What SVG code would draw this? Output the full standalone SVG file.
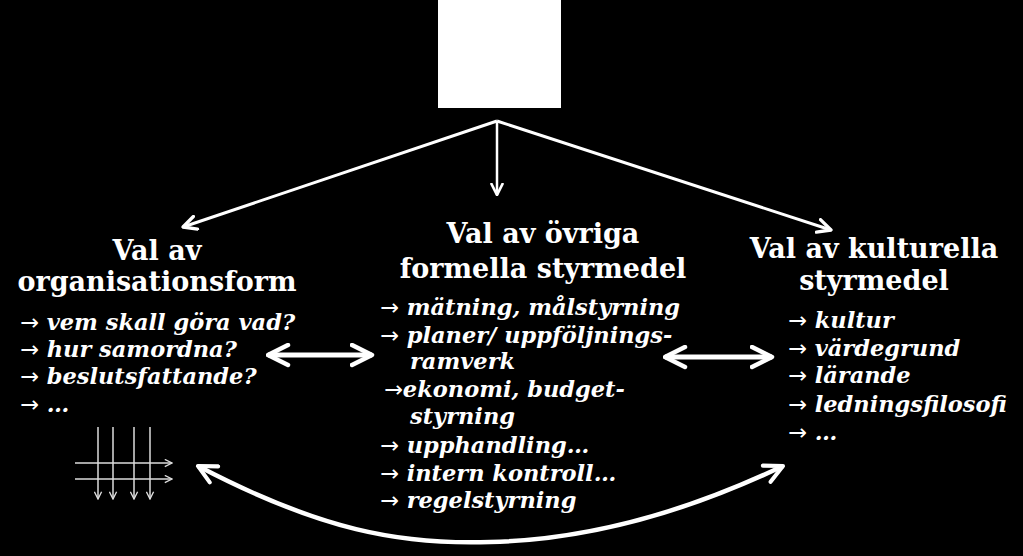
<svg xmlns="http://www.w3.org/2000/svg" width="1023" height="556" viewBox="0 0 1023 556">
<defs>
<style>
.t{font-family:"DejaVu Serif","Liberation Serif",serif;font-weight:bold;font-size:27px;fill:#fff}
.i{font-family:"DejaVu Serif","Liberation Serif",serif;font-weight:bold;font-style:italic;font-size:22.5px;fill:#fff}
.a{font-style:normal;font-weight:normal;font-family:"DejaVu Sans",sans-serif}
.c{stroke:#fff;fill:none}
.g{stroke:#ddd;fill:none;stroke-width:1.5}
</style>
<marker id="h" viewBox="0 0 10 10" refX="9" refY="5" markerWidth="5.5" markerHeight="5.5" orient="auto-start-reverse" markerUnits="strokeWidth"><path d="M1,1 L9,5 L1,9" fill="none" stroke="#fff" stroke-width="2" stroke-linecap="round" stroke-linejoin="round"/></marker>
<marker id="hb" viewBox="0 0 10 10" refX="9" refY="5" markerWidth="5" markerHeight="5" orient="auto-start-reverse" markerUnits="strokeWidth"><path d="M1,1 L9,5 L1,9" fill="none" stroke="#fff" stroke-width="1.8" stroke-linecap="round" stroke-linejoin="round"/></marker>
<marker id="hs" viewBox="0 0 10 10" refX="9" refY="5" markerWidth="6" markerHeight="6" orient="auto" markerUnits="strokeWidth"><path d="M1,1 L9,5 L1,9" fill="none" stroke="#ddd" stroke-width="1.5"/></marker>
</defs>
<rect width="1023" height="556" fill="#000"/>
<g id="top"><rect x="438" y="0" width="123" height="108" fill="#fff"/></g>
<g id="connectors">
<path class="c" d="M497,121 L183,227" stroke-width="3" marker-end="url(#h)"/>
<path class="c" d="M497,121 L831,230" stroke-width="3" marker-end="url(#h)"/>
<path class="c" d="M497,121 L497,195" stroke-width="2.5" marker-end="url(#h)"/>
<path class="c" d="M268,355 L372,355" stroke-width="5" marker-start="url(#hb)" marker-end="url(#hb)"/>
<path class="c" d="M665,357 L772,357" stroke-width="5" marker-start="url(#hb)" marker-end="url(#hb)"/>
<path class="c" d="M198,466 C320,530 400,545 490,542 C580,540 680,515 783,466" stroke-width="4.5" marker-start="url(#hb)" marker-end="url(#hb)"/>
</g>
<g id="icon">
<path class="g" d="M98,427 V499" marker-end="url(#hs)"/>
<path class="g" d="M113,427 V499" marker-end="url(#hs)"/>
<path class="g" d="M134,427 V499" marker-end="url(#hs)"/>
<path class="g" d="M150,427 V499" marker-end="url(#hs)"/>
<path class="g" d="M75,463 H172" marker-end="url(#hs)"/>
<path class="g" d="M75,479 H172" marker-end="url(#hs)"/>
</g>
<g id="org">
<text class="t" x="157" y="260" text-anchor="middle">Val av</text>
<text class="t" x="157" y="291" text-anchor="middle">organisationsform</text>
<text class="i" x="20" y="330"><tspan class="a">→</tspan> vem skall göra vad?</text>
<text class="i" x="20" y="357"><tspan class="a">→</tspan> hur samordna?</text>
<text class="i" x="20" y="384"><tspan class="a">→</tspan> beslutsfattande?</text>
<text class="i" x="20" y="412"><tspan class="a">→</tspan> …</text>
</g>
<g id="formal">
<text class="t" x="543" y="243" text-anchor="middle">Val av övriga</text>
<text class="t" x="543" y="278" text-anchor="middle">formella styrmedel</text>
<text class="i" x="380" y="315"><tspan class="a">→</tspan> mätning, målstyrning</text>
<text class="i" x="380" y="343"><tspan class="a">→</tspan> planer/ uppföljnings-</text>
<text class="i" x="410" y="369">ramverk</text>
<text class="i" x="384" y="397"><tspan class="a">→</tspan>ekonomi, budget-</text>
<text class="i" x="410" y="424">styrning</text>
<text class="i" x="380" y="453"><tspan class="a">→</tspan> upphandling…</text>
<text class="i" x="380" y="481"><tspan class="a">→</tspan> intern kontroll…</text>
<text class="i" x="380" y="508"><tspan class="a">→</tspan> regelstyrning</text>
</g>
<g id="cultural">
<text class="t" x="874" y="258" text-anchor="middle">Val av kulturella</text>
<text class="t" x="874" y="290" text-anchor="middle">styrmedel</text>
<text class="i" x="788" y="328"><tspan class="a">→</tspan> kultur</text>
<text class="i" x="788" y="356"><tspan class="a">→</tspan> värdegrund</text>
<text class="i" x="788" y="383"><tspan class="a">→</tspan> lärande</text>
<text class="i" x="788" y="412"><tspan class="a">→</tspan> ledningsfilosofi</text>
<text class="i" x="788" y="440"><tspan class="a">→</tspan> …</text>
</g>
</svg>
